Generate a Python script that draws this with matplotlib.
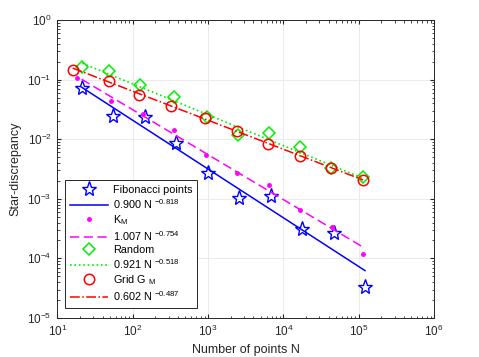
"""
Star-discrepancy vs number of points (log-log)
"""

import numpy as np
import matplotlib
matplotlib.use('Agg')
import matplotlib.pyplot as plt

plt.rcParams['font.family'] = ['Liberation Sans', 'DejaVu Sans']
plt.rcParams['mathtext.fontset'] = 'custom'
plt.rcParams['mathtext.rm'] = 'Liberation Sans'
plt.rcParams['mathtext.it'] = 'Liberation Sans'

# Fibonacci points
n_fib = [21, 55, 144, 377, 987, 2584, 6765, 17711, 46368, 121393]
d_fib = [0.0714, 0.0245, 0.0239, 0.00853, 0.00268, 0.00102, 0.00110, 0.000315, 0.000264, 3.35e-5]

# K_M
n_km = [18, 51, 136, 356, 929, 2440, 6430, 16560, 44360, 114300]
d_km = [0.105, 0.0432, 0.026, 0.0141, 0.00537, 0.00276, 0.00169, 0.000641, 0.00034, 0.000119]

# Random
n_rand = [21.5, 48, 125, 353, 968, 2472, 6368, 16900, 42660, 114300]
d_rand = [0.165, 0.139, 0.0802, 0.0516, 0.0239, 0.0118, 0.0126, 0.0074, 0.00325, 0.0023]

# Grid G_M
n_grid = [16, 49, 121, 324, 900, 2401, 6241, 16641, 42849, 114244]
d_grid = [0.145, 0.0948, 0.0545, 0.0361, 0.0224, 0.0139, 0.0083, 0.00522, 0.00325, 0.00204]

# fitted power laws c * N^p
fit_fib = (0.900, -0.818)
fit_km = (1.007, -0.754)
fit_rand = (0.921, -0.518)
fit_grid = (0.602, -0.487)


def power_law(n, fit):
    n = np.asarray(n, dtype=float)
    return fit[0] * n ** fit[1]


fig = plt.figure(figsize=(4.79, 3.57), dpi=100)
ax = fig.add_axes([57.3 / 479, 1 - 318 / 357, (434 - 57.3) / 479, 298 / 357])

# 拟合线范围
nl_fib = np.array([n_fib[0], n_fib[-1]])
nl_km = np.array([n_fib[0], n_km[-1]])
nl_rand = np.array([n_rand[0], n_rand[-1]])
nl_grid = np.array([n_grid[0], n_grid[-1]])

ax.plot(n_fib, d_fib, linestyle='none', marker='*', ms=11, mfc='none',
        mec='b', mew=1.0, label='Fibonacci points')
ax.plot(nl_fib, power_law(nl_fib, fit_fib), '-', color='b', lw=1.1,
        label=r'0.900 N $^{-0.818}$')
ax.plot(n_km, d_km, linestyle='none', marker='.', ms=5, color='#ff00ff',
        label=r'K$_M$')
ax.plot(nl_km, power_law(nl_km, fit_km), '--', color='#ff00ff', lw=1.1,
        dashes=(6, 3), label=r'1.007 N $^{-0.754}$')
ax.plot(n_rand, d_rand, linestyle='none', marker='D', ms=6.5, mfc='none',
        mec='#00ee00', mew=1.1, label='Random')
ax.plot(nl_rand, power_law(nl_rand, fit_rand), ':', color='#00ee00', lw=1.2,
        label=r'0.921 N $^{-0.518}$')
ax.plot(n_grid, d_grid, linestyle='none', marker='o', ms=7.5, mfc='none',
        mec='r', mew=1.1, label=r'Grid G $_M$')
ax.plot(nl_grid, power_law(nl_grid, fit_grid), '-.', color='r', lw=1.1,
        label=r'0.602 N $^{-0.487}$')

ax.set_xscale('log')
ax.set_yscale('log')
ax.set_xlim(1e1, 1e6)
ax.set_ylim(1e-5, 1e0)
ax.grid(True, which='major', color='#ebebeb', lw=0.7)
ax.set_axisbelow(True)
ax.tick_params(which='both', direction='in', top=True, right=True,
               labelsize=8.5, colors='#262626')
ax.tick_params(which='major', length=3, pad=4)
ax.tick_params(which='minor', length=1.8)
for s in ax.spines.values():
    s.set_color('#262626')
    s.set_linewidth(0.7)

ax.set_xlabel('Number of points N', fontsize=9, color='#262626')
ax.set_ylabel('Star-discrepancy', fontsize=9, color='#262626')

leg = ax.legend(loc='lower left', bbox_to_anchor=(0.02, 0.034), fontsize=7.8,
                handlelength=3.5, labelspacing=0.2, borderpad=0.45,
                handletextpad=0.5, fancybox=False, framealpha=1,
                edgecolor='#262626', borderaxespad=0)
leg.get_frame().set_linewidth(0.7)

plt.savefig('out.png', dpi=100)
